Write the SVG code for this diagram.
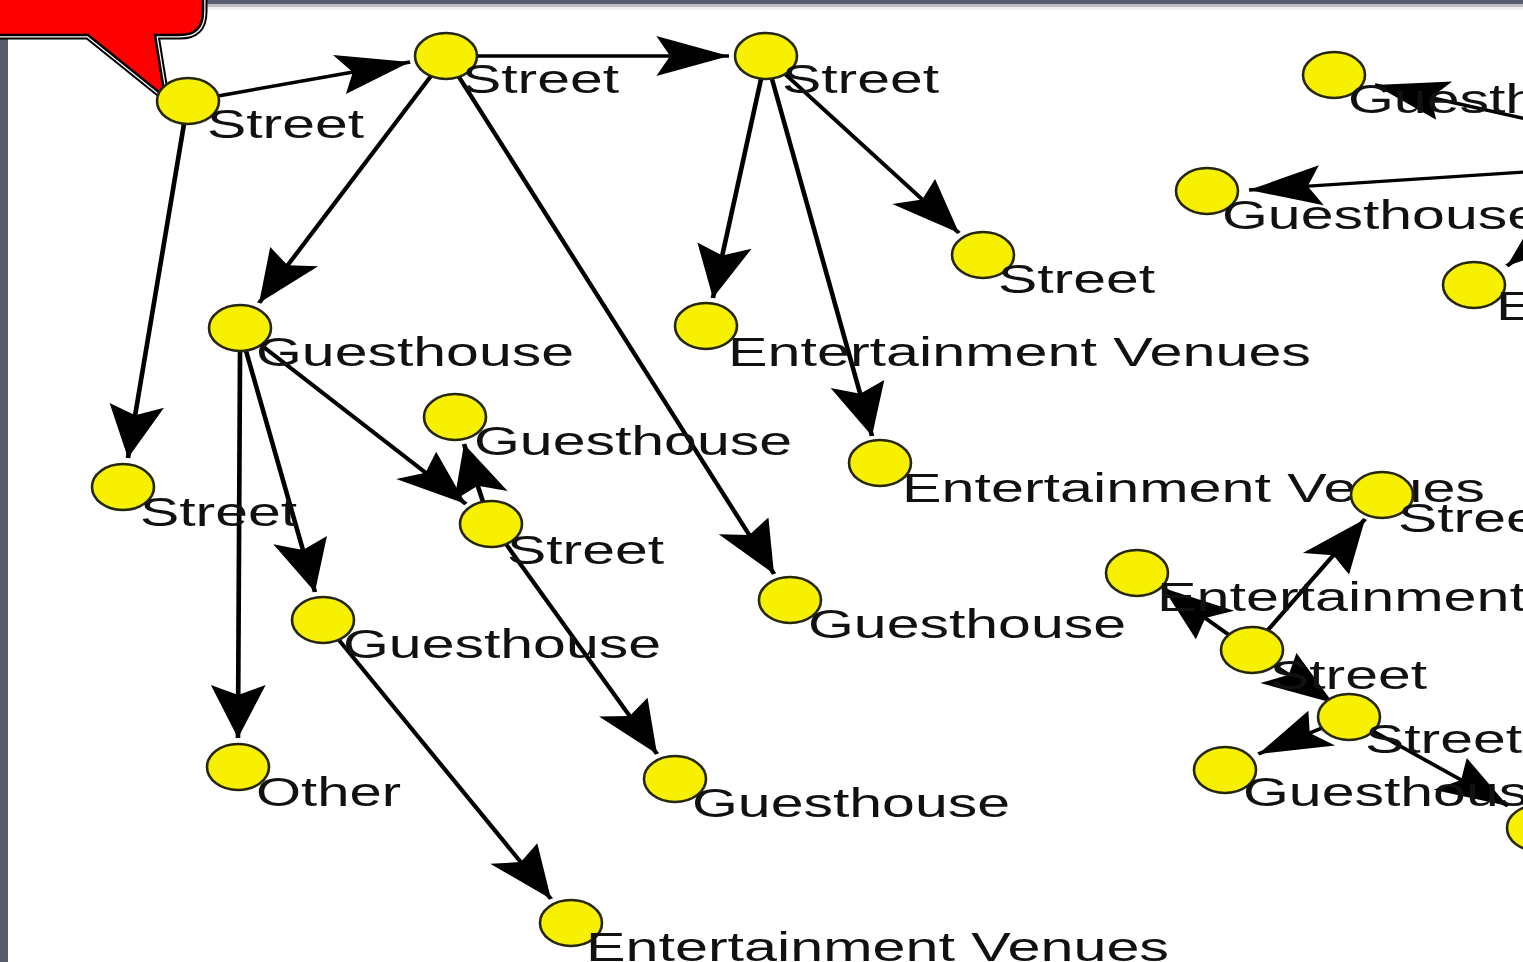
<svg xmlns="http://www.w3.org/2000/svg" width="1523" height="962" viewBox="0 0 1523 962">
<style>
.nd{fill:#f7f000;stroke:#26260a;stroke-width:2.6}
.lb{font-family:"Liberation Sans",Arial,sans-serif;font-size:41px;fill:#111111}
.ed{stroke:#000;stroke-width:3.4;fill:none;marker-end:url(#ah)}
</style>
<defs>
<marker id="ah" markerUnits="userSpaceOnUse" viewBox="-60 -30 70 60" markerWidth="70" markerHeight="60" refX="0" refY="0" orient="auto" overflow="visible">
<path d="M0,0 L-53,-20 L-43,0 L-53,20 Z" fill="#000"/>
</marker>
</defs>
<rect x="0" y="0" width="1523" height="962" fill="#ffffff"/>
<rect x="0" y="0" width="1523" height="4" fill="#5a5e6e"/>
<rect x="0" y="4" width="1523" height="3" fill="#bdbdc2"/>
<rect x="0" y="7" width="1523" height="3" fill="#f1f1f1"/>
<rect x="0" y="0" width="8" height="962" fill="#575b6b"/>
<g id="callout">
<path d="M-10,-10 L203,-10 L203,12 Q203,35 180,35 L155,35 L165,97 L88,35 L-10,35 Z" fill="none" stroke="#000" stroke-width="9" stroke-linejoin="miter"/>
<path d="M-10,-10 L203,-10 L203,12 Q203,35 180,35 L155,35 L165,97 L88,35 L-10,35 Z" fill="none" stroke="#fff" stroke-width="5"/>
<path d="M-10,-10 L203,-10 L203,12 Q203,35 180,35 L155,35 L165,97 L88,35 L-10,35 Z" fill="#ff0000" stroke="#000" stroke-width="2.5"/>
</g>
<g id="connectors" transform="scale(1.37 1)">
<line class="ed" x1="159.1" y1="96" x2="299.3" y2="62"/>
<line class="ed" x1="348.2" y1="56" x2="532.1" y2="56"/>
<line class="ed" x1="134.3" y1="124" x2="93.4" y2="458"/>
<line class="ed" x1="314.6" y1="76" x2="189.1" y2="303"/>
<line class="ed" x1="335.0" y1="77" x2="565.0" y2="574"/>
<line class="ed" x1="555.5" y1="79" x2="520.4" y2="298"/>
<line class="ed" x1="563.5" y1="79" x2="636.5" y2="436"/>
<line class="ed" x1="573.0" y1="74" x2="700.0" y2="233"/>
<line class="ed" x1="175.2" y1="351" x2="173.7" y2="738"/>
<line class="ed" x1="179.6" y1="351" x2="229.9" y2="592"/>
<line class="ed" x1="190.5" y1="345" x2="340.1" y2="504"/>
<line class="ed" x1="352.6" y1="502" x2="338.7" y2="444"/>
<line class="ed" x1="369.3" y1="544" x2="479.6" y2="754"/>
<line class="ed" x1="247.4" y1="640" x2="402.2" y2="899"/>
<line class="ed" x1="1124.1" y1="122" x2="1003.5" y2="85"/>
<line class="ed" x1="1124.1" y1="171" x2="911.7" y2="190"/>
<line class="ed" x1="1182.5" y1="180" x2="1100.0" y2="266"/>
<line class="ed" x1="925.5" y1="630" x2="996.4" y2="519"/>
<line class="ed" x1="897.1" y1="635" x2="849.0" y2="588"/>
<line class="ed" x1="928.5" y1="664" x2="973.0" y2="703"/>
<line class="ed" x1="965.0" y1="728" x2="918.5" y2="754"/>
<line class="ed" x1="1002.2" y1="731" x2="1100.7" y2="806"/>
</g>
<g id="n1"><ellipse class="nd" cx="188" cy="101" rx="31" ry="23"/><text class="lb" x="207" y="138" textLength="157" lengthAdjust="spacingAndGlyphs">Street</text></g>
<g id="n2"><ellipse class="nd" cx="446" cy="56" rx="31" ry="23"/><text class="lb" x="462" y="93" textLength="157" lengthAdjust="spacingAndGlyphs">Street</text></g>
<g id="n3"><ellipse class="nd" cx="766" cy="56" rx="31" ry="23"/><text class="lb" x="782" y="93" textLength="157" lengthAdjust="spacingAndGlyphs">Street</text></g>
<g id="n4"><ellipse class="nd" cx="1334" cy="75" rx="31" ry="23"/><text class="lb" x="1348" y="113" textLength="318" lengthAdjust="spacingAndGlyphs">Guesthouse</text></g>
<g id="n5"><ellipse class="nd" cx="1207" cy="191" rx="31" ry="23"/><text class="lb" x="1222" y="229" textLength="318" lengthAdjust="spacingAndGlyphs">Guesthouse</text></g>
<g id="n6"><ellipse class="nd" cx="1474" cy="285" rx="31" ry="23"/><text class="lb" x="1496" y="320" textLength="583" lengthAdjust="spacingAndGlyphs">Entertainment Venues</text></g>
<g id="n7"><ellipse class="nd" cx="983" cy="255" rx="31" ry="23"/><text class="lb" x="998" y="293" textLength="157" lengthAdjust="spacingAndGlyphs">Street</text></g>
<g id="n8"><ellipse class="nd" cx="240" cy="328" rx="31" ry="23"/><text class="lb" x="256" y="366" textLength="318" lengthAdjust="spacingAndGlyphs">Guesthouse</text></g>
<g id="n9"><ellipse class="nd" cx="706" cy="326" rx="31" ry="23"/><text class="lb" x="728" y="366" textLength="583" lengthAdjust="spacingAndGlyphs">Entertainment Venues</text></g>
<g id="n10"><ellipse class="nd" cx="455" cy="417" rx="31" ry="23"/><text class="lb" x="474" y="455" textLength="318" lengthAdjust="spacingAndGlyphs">Guesthouse</text></g>
<g id="n11"><ellipse class="nd" cx="880" cy="463" rx="31" ry="23"/><text class="lb" x="902" y="502" textLength="583" lengthAdjust="spacingAndGlyphs">Entertainment Venues</text></g>
<g id="n12"><ellipse class="nd" cx="123" cy="487" rx="31" ry="23"/><text class="lb" x="140" y="526" textLength="157" lengthAdjust="spacingAndGlyphs">Street</text></g>
<g id="n13"><ellipse class="nd" cx="491" cy="524" rx="31" ry="23"/><text class="lb" x="507" y="564" textLength="157" lengthAdjust="spacingAndGlyphs">Street</text></g>
<g id="n14"><ellipse class="nd" cx="1382" cy="495" rx="31" ry="23"/><text class="lb" x="1398" y="532" textLength="157" lengthAdjust="spacingAndGlyphs">Street</text></g>
<g id="n15"><ellipse class="nd" cx="1137" cy="573" rx="31" ry="23"/><text class="lb" x="1157" y="611" textLength="583" lengthAdjust="spacingAndGlyphs">Entertainment Venues</text></g>
<g id="n16"><ellipse class="nd" cx="790" cy="600" rx="31" ry="23"/><text class="lb" x="808" y="638" textLength="318" lengthAdjust="spacingAndGlyphs">Guesthouse</text></g>
<g id="n17"><ellipse class="nd" cx="323" cy="620" rx="31" ry="23"/><text class="lb" x="343" y="658" textLength="318" lengthAdjust="spacingAndGlyphs">Guesthouse</text></g>
<g id="n18"><ellipse class="nd" cx="1252" cy="650" rx="31" ry="23"/><text class="lb" x="1270" y="689" textLength="157" lengthAdjust="spacingAndGlyphs">Street</text></g>
<g id="n19"><ellipse class="nd" cx="1349" cy="717" rx="31" ry="23"/><text class="lb" x="1365" y="753" textLength="157" lengthAdjust="spacingAndGlyphs">Street</text></g>
<g id="n20"><ellipse class="nd" cx="1225" cy="770" rx="31" ry="23"/><text class="lb" x="1243" y="806" textLength="318" lengthAdjust="spacingAndGlyphs">Guesthouse</text></g>
<g id="n21"><ellipse class="nd" cx="1538" cy="828" rx="31" ry="23"/></g>
<g id="n22"><ellipse class="nd" cx="675" cy="779" rx="31" ry="23"/><text class="lb" x="692" y="817" textLength="318" lengthAdjust="spacingAndGlyphs">Guesthouse</text></g>
<g id="n23"><ellipse class="nd" cx="238" cy="767" rx="31" ry="23"/><text class="lb" x="256" y="806" textLength="145" lengthAdjust="spacingAndGlyphs">Other</text></g>
<g id="n24"><ellipse class="nd" cx="571" cy="923" rx="31" ry="23"/><text class="lb" x="586" y="961" textLength="583" lengthAdjust="spacingAndGlyphs">Entertainment Venues</text></g>
</svg>
